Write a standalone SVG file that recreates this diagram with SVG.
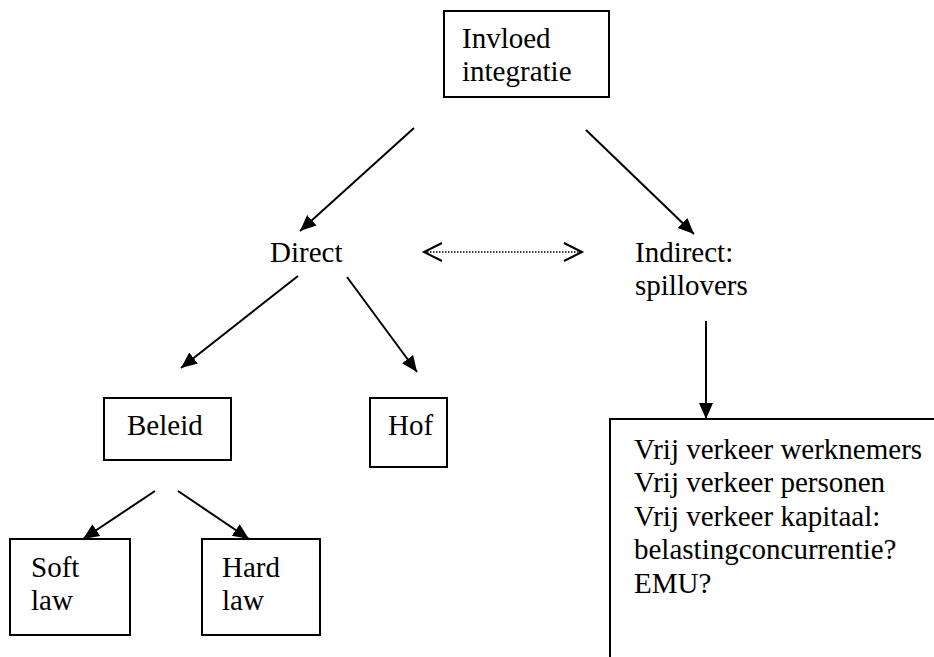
<svg xmlns="http://www.w3.org/2000/svg" width="934" height="657" viewBox="0 0 934 657">
<style>
.box{fill:#fff;stroke:#000;stroke-width:2}
.t{font-family:"Liberation Serif","Times New Roman",serif;font-size:29px;fill:#000}
.c{stroke:#000;stroke-width:2;fill:none}
.d{stroke:#000;stroke-width:1.5;stroke-dasharray:1.5 1.5;fill:none}
</style>
<defs>
<marker id="ah" markerUnits="userSpaceOnUse" markerWidth="18" markerHeight="16" refX="16" refY="8" orient="auto">
<path d="M0,1 L16,8 L0,15 Z" fill="#000"/>
</marker>
<marker id="ch" markerUnits="userSpaceOnUse" markerWidth="22" markerHeight="22" refX="19" refY="11" orient="auto-start-reverse">
<path d="M1,2 L19,11 L1,20" fill="none" stroke="#000" stroke-width="2"/>
</marker>
</defs>
<g id="connectors">
<line class="c" x1="414" y1="128" x2="300" y2="231" marker-end="url(#ah)"/>
<line class="c" x1="586" y1="130" x2="694" y2="234" marker-end="url(#ah)"/>
<line class="c" x1="298" y1="276" x2="181" y2="368" marker-end="url(#ah)"/>
<line class="c" x1="347" y1="277" x2="417" y2="372" marker-end="url(#ah)"/>
<line class="c" x1="706" y1="321" x2="706" y2="419" marker-end="url(#ah)"/>
<line class="c" x1="155" y1="491" x2="83" y2="539" marker-end="url(#ah)"/>
<line class="c" x1="178" y1="491" x2="249" y2="539" marker-end="url(#ah)"/>
<line class="d" x1="424" y1="252" x2="582" y2="252" marker-start="url(#ch)" marker-end="url(#ch)"/>
</g>
<g id="invloed">
<rect class="box" x="444" y="11" width="165" height="86"/>
<text class="t" x="462" y="48">Invloed</text>
<text class="t" x="462" y="81">integratie</text>
</g>
<g id="direct">
<text class="t" x="270" y="262">Direct</text>
</g>
<g id="indirect">
<text class="t" x="635" y="262">Indirect:</text>
<text class="t" x="635" y="295">spillovers</text>
</g>
<g id="beleid">
<rect class="box" x="104" y="398" width="127" height="62"/>
<text class="t" x="127" y="435">Beleid</text>
</g>
<g id="hof">
<rect class="box" x="370" y="398" width="77" height="69"/>
<text class="t" x="388" y="435">Hof</text>
</g>
<g id="soft">
<rect class="box" x="10" y="539" width="120" height="96"/>
<text class="t" x="31" y="577">Soft</text>
<text class="t" x="31" y="610">law</text>
</g>
<g id="hard">
<rect class="box" x="202" y="539" width="118" height="96"/>
<text class="t" x="222" y="577">Hard</text>
<text class="t" x="222" y="610">law</text>
</g>
<g id="vrij">
<rect class="box" x="610" y="419" width="340" height="260"/>
<text class="t" x="634" y="459">Vrij verkeer werknemers</text>
<text class="t" x="634" y="492">Vrij verkeer personen</text>
<text class="t" x="634" y="526">Vrij verkeer kapitaal:</text>
<text class="t" x="634" y="559">belastingconcurrentie?</text>
<text class="t" x="634" y="593">EMU?</text>
</g>
</svg>
